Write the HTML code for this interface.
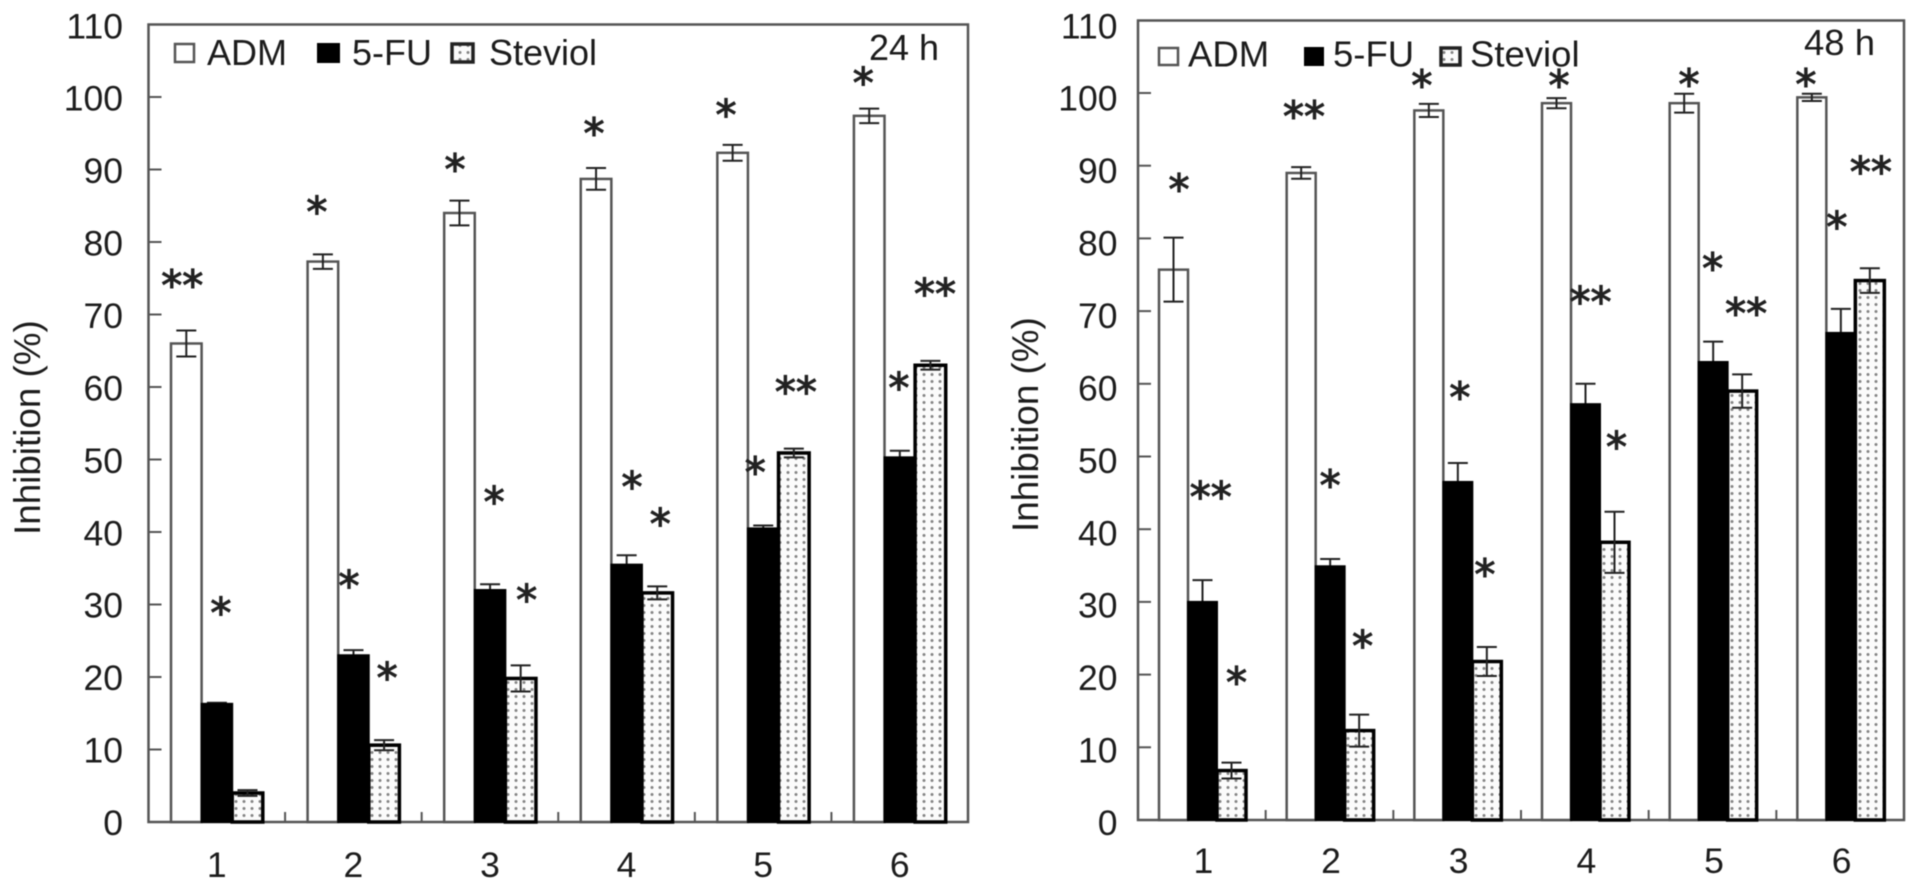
<!DOCTYPE html>
<html lang="en">
<head>
<meta charset="utf-8">
<title>Inhibition of ADM, 5-FU and Steviol at 24 h and 48 h</title>
<style>
html,body{margin:0;padding:0;background:#fff;width:1918px;height:890px;overflow:hidden}
svg{display:block}
text{font-family:"Liberation Sans",Arial,sans-serif;fill:#1c1c1c}
.star{font-family:"DejaVu Sans",sans-serif;font-size:42px;fill:#222;stroke:#222;stroke-width:1.1px;text-anchor:middle}
</style>
</head>
<body>
<svg id="chart" xmlns="http://www.w3.org/2000/svg" width="1918" height="890" viewBox="0 0 1918 890">
  <defs>
    <pattern id="dots" patternUnits="userSpaceOnUse" width="8" height="7">
      <rect width="8" height="7" fill="#fbfbfb"/>
      <circle cx="4" cy="3.5" r="1.5" fill="#858585"/>
    </pattern>
  </defs>
  <g id="root" style="filter:blur(0.5px)">
    <g>
      <rect x="175" y="44" width="19" height="18" fill="#fff" stroke="#555" stroke-width="2.5"/>
      <text x="207" y="65" font-size="36">ADM</text>
      <rect x="318" y="44" width="21" height="18" fill="#000" stroke="#000" stroke-width="2"/>
      <text x="352" y="65" font-size="36">5-FU</text>
      <rect x="452" y="44" width="21" height="18" fill="url(#dots)" stroke="#222" stroke-width="3.5"/>
      <text x="489" y="65" font-size="36">Steviol</text>
    </g>
    <text x="869" y="60" font-size="36">24 h</text>
    <text transform="translate(40 535) rotate(-90)" font-size="36.8">Inhibition (%)</text>

    <g>
      <rect x="1159" y="48" width="19" height="17" fill="#fff" stroke="#555" stroke-width="2.5"/>
      <text x="1188" y="66.5" font-size="36.5">ADM</text>
      <rect x="1305" y="48" width="18" height="17" fill="#000" stroke="#000" stroke-width="2"/>
      <text x="1333" y="66.5" font-size="36.5">5-FU</text>
      <rect x="1441" y="48" width="19" height="17" fill="url(#dots)" stroke="#222" stroke-width="3.5"/>
      <text x="1470" y="66.5" font-size="36.5">Steviol</text>
    </g>
    <text x="1804" y="55" font-size="36.5">48 h</text>
    <text transform="translate(1038 532) rotate(-90)" font-size="36.8">Inhibition (%)</text>
  </g>
</svg>
<script>
// Chart data
var categories = ['1', '2', '3', '4', '5', '6'];
var yTicks = [0, 10, 20, 30, 40, 50, 60, 70, 80, 90, 100, 110];

var adm24 = [66, 77.3, 84, 88.7, 92.3, 97.4];
var adm24Err = [1.8, 1.0, 1.7, 1.5, 1.1, 1.0];
var fu24 = [16.3, 23, 32, 35.5, 40.5, 50.3];
var fu24Err = [0.15, 0.7, 0.8, 1.3, 0.4, 0.9];
var steviol24 = [4, 10.6, 19.8, 31.6, 50.9, 63];
var steviol24Err = [0.4, 0.7, 1.8, 0.9, 0.6, 0.6];

var adm48 = [75.7, 89, 97.6, 98.6, 98.6, 99.4];
var adm48Err = [4.4, 0.8, 0.9, 0.7, 1.3, 0.5];
var fu48 = [30, 34.9, 46.5, 57.2, 63, 67];
var fu48Err = [3, 1, 2.6, 2.8, 2.8, 3.3];
var steviol48 = [6.8, 12.3, 21.8, 38.2, 59, 74.2];
var steviol48Err = [1.1, 2.2, 2, 4.2, 2.3, 1.7];

var NS = 'http://www.w3.org/2000/svg';
var root = document.getElementById('root');

function make(tag, attrs, text) {
  var n = document.createElementNS(NS, tag);
  for (var k in attrs) n.setAttribute(k, attrs[k]);
  if (text !== undefined) n.textContent = text;
  root.appendChild(n);
  return n;
}

var panels = [
  { key: '24h', left: 148.5, right: 968, top: 24.5, zero: 822, unit: 7.25, barInset: 22.5, barW: 30.6,
    labelX: 123, labelZero: 835, labelUnit: 7.243, catLabelY: 877, catLabelDx: 0,
    series: [
      { key: 'adm', values: adm24, errs: adm24Err, fill: '#fff', stroke: '#555', sw: 2.5 },
      { key: '5fu', values: fu24, errs: fu24Err, fill: '#000', stroke: '#000', sw: 2 },
      { key: 'steviol', values: steviol24, errs: steviol24Err, fill: 'url(#dots)', stroke: '#000', sw: 3.5 }
    ] },
  { key: '48h', left: 1138, right: 1904, top: 20.5, zero: 820, unit: 7.27, barInset: 21, barW: 29,
    labelX: 1117.5, labelZero: 835, labelUnit: 7.243, catLabelY: 873, catLabelDx: 1.5,
    series: [
      { key: 'adm', values: adm48, errs: adm48Err, fill: '#fff', stroke: '#555', sw: 2.5 },
      { key: '5fu', values: fu48, errs: fu48Err, fill: '#000', stroke: '#000', sw: 2 },
      { key: 'steviol', values: steviol48, errs: steviol48Err, fill: 'url(#dots)', stroke: '#000', sw: 3.5 }
    ] }
];

function yScale(p, v) { return p.zero - v * p.unit; }
function catStep(p) { return (p.right - p.left) / categories.length; }
function barLeft(p, c, s) { return p.left + c * catStep(p) + p.barInset + s * p.barW; }

function drawError(p, s, i, x) {
  var v = s.values[i];
  var cx = x + p.barW / 2;
  var hi = yScale(p, v + s.errs[i]);
  var lo = yScale(p, v - s.errs[i]);
  var d = 'M' + cx + ' ' + hi + 'V' + lo + 'M' + (cx - 10) + ' ' + hi + 'H' + (cx + 10) + 'M' + (cx - 10) + ' ' + lo + 'H' + (cx + 10);
  var eb = make('path', { d: d, fill: 'none', stroke: '#222', 'stroke-width': 2 });
  
  
}

panels.forEach(function (p) {
  // frame under the bars
  var frame = make('rect', { x: p.left, y: p.top, width: p.right - p.left, height: p.zero - p.top, fill: 'none', stroke: '#555', 'stroke-width': 2.5 });
  
  
  // y ticks and labels
  yTicks.forEach(function (t) {
    if (t > 0 && t < 110) {
      var tick = make('line', { x1: p.left, x2: p.left + 13, y1: yScale(p, t), y2: yScale(p, t), stroke: '#555', 'stroke-width': 2 });
      
      
    }
    var lab = make('text', { x: p.labelX, y: p.labelZero - t * p.labelUnit, 'text-anchor': 'end', 'font-size': 35.5 }, String(t));
    
    
  });
  // x ticks and labels
  categories.forEach(function (c, i) {
    if (i > 0) {
      var xt = p.left + i * catStep(p);
      var tick = make('line', { x1: xt, x2: xt, y1: p.zero - 10, y2: p.zero, stroke: '#555', 'stroke-width': 2 });
      
      
    }
    var lab = make('text', { x: p.left + (i + 0.5) * catStep(p) + p.catLabelDx, y: p.catLabelY, 'text-anchor': 'middle', 'font-size': 35.5 }, c);
    
    
  });
  // bars and error bars; the lower half of a 5-FU error bar is hidden by its black bar
  p.series.forEach(function (s, si) {
    s.values.forEach(function (v, i) {
      var x = barLeft(p, i, si);
      if (s.key === '5fu') drawError(p, s, i, x);
      var bar = make('rect', { x: x, y: yScale(p, v), width: p.barW, height: p.zero - yScale(p, v), fill: s.fill, stroke: s.stroke, 'stroke-width': s.sw });
      
      
      if (s.key !== '5fu') drawError(p, s, i, x);
    });
  });
});

// Significance marks sit a set amount above their bar's value
function star(pi, si, ci, mark, gap, dx) {
  var p = panels[pi];
  var v = p.series[si].values[ci];
  var cx = barLeft(p, ci, si) + p.barW / 2 + dx;
  var t = make('text', { x: cx, y: yScale(p, v + gap) + 21.5, 'class': 'star' }, mark);
  
  
}

star(0, 0, 0, '**', 9, -4);
star(0, 0, 1, '*', 7.8, -6);
star(0, 0, 2, '*', 7, -4.5);
star(0, 0, 3, '*', 7.2, -2);
star(0, 0, 4, '*', 6.2, -6.6);
star(0, 0, 5, '*', 5.5, -6);
star(0, 1, 0, '*', 13.5, 4);
star(0, 1, 1, '*', 10.5, -4.5);
star(0, 1, 2, '*', 13.1, 4);
star(0, 1, 3, '*', 11.7, 5.4);
star(0, 1, 4, '*', 8.7, -8);
star(0, 1, 5, '*', 10.5, -1);
star(0, 2, 1, '*', 10.2, 3);
star(0, 2, 2, '*', 11.8, 6);
star(0, 2, 3, '*', 10.5, 3);
star(0, 2, 4, '**', 9.4, 2);
star(0, 2, 5, '**', 10.8, 4.6);

star(1, 0, 0, '*', 12, 5.5);
star(1, 0, 1, '**', 8.7, 2.8);
star(1, 0, 2, '*', 4.4, -7);
star(1, 0, 3, '*', 3.4, 2.5);
star(1, 0, 4, '*', 3.5, 4.8);
star(1, 0, 5, '*', 2.7, -6);
star(1, 1, 0, '**', 15.4, 8.2);
star(1, 1, 1, '*', 12.1, 0);
star(1, 1, 2, '*', 12.6, 2);
star(1, 1, 3, '**', 15, 5);
star(1, 1, 4, '*', 13.8, -0.5);
star(1, 1, 5, '*', 15.5, -4);
star(1, 2, 0, '*', 13.1, 5);
star(1, 2, 1, '*', 12.6, 3.5);
star(1, 2, 2, '*', 12.9, -2);
star(1, 2, 3, '*', 14.1, 2);
star(1, 2, 4, '**', 11.6, 4);
star(1, 2, 5, '**', 15.9, 1);
</script>
</body>
</html>
